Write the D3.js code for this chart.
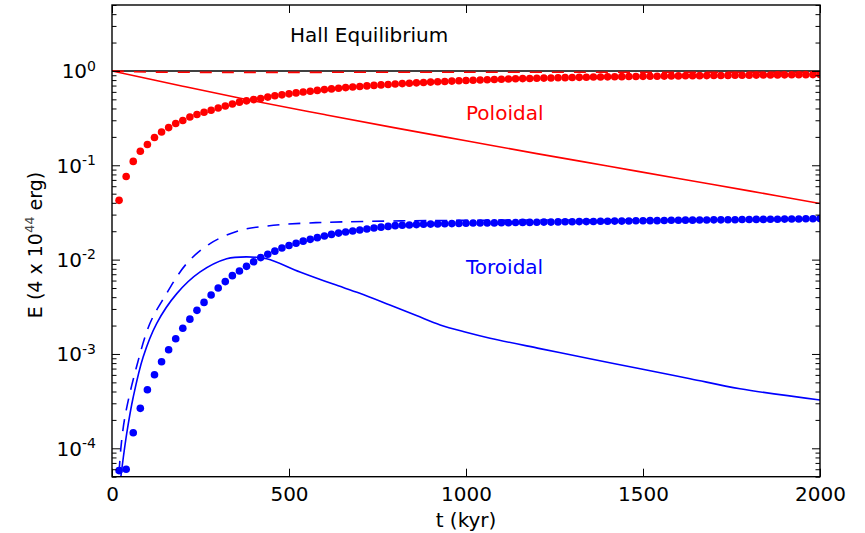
<!DOCTYPE html>
<html>
<head>
<meta charset="utf-8">
<script src="https://cdn.jsdelivr.net/npm/d3@7"></script>
<style>
  html, body { margin: 0; padding: 0; background: #fff; }
  svg { display: block; font-family: "DejaVu Sans", sans-serif; }
</style>
</head>
<body>
<svg id="chart" width="865" height="533"></svg>
<script>
// ---------------- data ----------------
const xTicks = [0, 500, 1000, 1500, 2000];
const yTicks = [1e-4, 1e-3, 1e-2, 1e-1, 1];
const yTickExp = ["-4", "-3", "-2", "-1", "0"];

// Hall equilibrium reference level
const hallLine = [[0, 1], [2000, 1]];

// Poloidal energy, dashed
const polDashed = [[0, 1.0], [100, 0.975], [1000, 0.97], [2000, 0.97]];

// Poloidal energy, solid
const polSolid = [[0, 1], [200, 0.689], [400, 0.481], [600, 0.345], [800, 0.249], [1000, 0.182],
  [1200, 0.133], [1400, 0.0982], [1600, 0.0724], [1800, 0.0535], [2000, 0.0394]];

// dot times (kyr)
const dotTimes = [20,40,60,80,100,120,140,160,180,200,220,240,260,280,300,320,340,360,380,400,
  420,440,460,480,500,520,540,560,580,600,620,640,660,680,700,720,740,760,780,800,
  820,840,860,880,900,920,940,960,980,1000,1020,1040,1060,1080,1100,1120,1140,1160,1180,1200,
  1220,1240,1260,1280,1300,1320,1340,1360,1380,1400,1420,1440,1460,1480,1500,1520,1540,1560,1580,1600,
  1620,1640,1660,1680,1700,1720,1740,1760,1780,1800,1820,1840,1860,1880,1900,1920,1940,1960,1980,2000];

// Poloidal energy, dots
const polDots = [0.0425,0.076,0.110,0.141,0.166,0.197,0.225,0.251,0.277,0.298,0.325,0.345,0.365,0.383,0.405,0.425,0.447,0.467,0.482,0.497,
  0.510,0.528,0.545,0.558,0.572,0.585,0.598,0.610,0.622,0.634,0.645,0.656,0.666,0.676,0.685,0.694,0.703,0.711,0.719,0.727,
  0.734,0.741,0.748,0.755,0.762,0.768,0.774,0.780,0.786,0.792,0.797,0.802,0.807,0.812,0.817,0.821,0.825,0.829,0.833,0.837,
  0.840,0.843,0.846,0.849,0.852,0.855,0.858,0.861,0.863,0.866,0.868,0.870,0.872,0.874,0.876,0.878,0.880,0.882,0.884,0.886,
  0.888,0.889,0.891,0.893,0.894,0.896,0.897,0.899,0.900,0.902,0.903,0.905,0.906,0.908,0.909,0.911,0.912,0.914,0.915,0.917];

// Toroidal energy, dashed
const torDashed = [[20, 5.5e-5], [25, 1.0e-4], [37, 2.2e-4], [68, 7.0e-4], [107, 2.1e-3], [148, 4.0e-3],
  [211, 9.1e-3], [277, 0.0148], [362, 0.0204], [456, 0.0231], [550, 0.0244], [650, 0.0251], [795, 0.0257],
  [1000, 0.0261], [1500, 0.0264], [2000, 0.0266]];

// Toroidal energy, solid
const torSolid = [[22, 4.0e-5], [25, 5.0e-5], [41.5, 1.43e-4], [60, 3.5e-4], [88, 9.3e-4], [126, 2.1e-3],
  [183, 4.36e-3], [249, 7.4e-3], [324, 0.0102], [380, 0.0107], [437, 0.0102], [531, 7.4e-3], [625, 5.5e-3],
  [700, 4.4e-3], [785, 3.3e-3], [860, 2.55e-3], [927, 2.03e-3], [1000, 1.7e-3], [1068, 1.47e-3],
  [1209, 1.14e-3], [1350, 8.9e-4], [1492, 6.98e-4], [1633, 5.47e-4], [1774, 4.28e-4], [2000, 3.25e-4]];

// Toroidal energy, dots
const torDots = [5.8e-5,6.0e-5,1.46e-4,2.65e-4,4.18e-4,6.03e-4,8.28e-4,1.11e-3,1.45e-3,1.87e-3,2.34e-3,2.9e-3,3.52e-3,4.22e-3,5.0e-3,5.85e-3,6.76e-3,7.57e-3,8.49e-3,9.5e-3,
  0.0105,0.0114,0.0123,0.0133,0.0141,0.0149,0.0157,0.0164,0.0171,0.0178,0.0185,0.0191,0.0196,0.0201,0.0206,0.0211,0.0216,0.0221,0.0225,0.0229,
  0.0231,0.0233,0.0235,0.0237,0.0238,0.0239,0.0240,0.0241,0.0242,0.0243,0.0244,0.0244,0.0245,0.0245,0.0246,0.0246,0.0247,0.0248,0.0248,0.0249,
  0.0250,0.0250,0.0251,0.0252,0.0252,0.0253,0.0253,0.0254,0.0255,0.0255,0.0256,0.0256,0.0257,0.0258,0.0258,0.0259,0.0259,0.0260,0.0261,0.0261,
  0.0262,0.0262,0.0263,0.0263,0.0264,0.0264,0.0265,0.0265,0.0266,0.0266,0.0267,0.0267,0.0268,0.0268,0.0269,0.0270,0.0270,0.0271,0.0271,0.0272];

const annotations = [
  {text: "Hall Equilibrium", t: 503, v: 2.02, color: "#000000"},
  {text: "Poloidal", t: 1000, v: 0.30, color: "#ff0000"},
  {text: "Toroidal", t: 1000, v: 0.0070, color: "#0000ff"}
];

// ---------------- layout ----------------
const L = 112, R = 820, T = 5, B = 476.7;
const svg = d3.select("#chart");
const x = d3.scaleLinear().domain([0, 2000]).range([L, R]);
const y = d3.scaleLog().domain([5e-5, 5]).range([B, T]);

svg.append("defs").append("clipPath").attr("id", "clip")
  .append("rect").attr("x", L).attr("y", T).attr("width", R - L).attr("height", B - T);

const plot = svg.append("g").attr("clip-path", "url(#clip)");
const line = d3.line().x(d => x(d[0])).y(d => y(d[1]));
const smooth = d3.line().x(d => x(d[0])).y(d => y(d[1])).curve(d3.curveCatmullRom.alpha(0.5));

plot.append("path").attr("d", line(hallLine)).attr("fill", "none").attr("stroke", "#000").attr("stroke-width", 1.6);
plot.append("path").attr("d", smooth(polDashed)).attr("fill", "none").attr("stroke", "#ff0000").attr("stroke-width", 1.6).attr("stroke-dasharray", "12,10");
plot.append("path").attr("d", smooth(polSolid)).attr("fill", "none").attr("stroke", "#ff0000").attr("stroke-width", 1.6);
plot.append("path").attr("d", smooth(torDashed)).attr("fill", "none").attr("stroke", "#0000ff").attr("stroke-width", 1.6).attr("stroke-dasharray", "12,9");
plot.append("path").attr("d", smooth(torSolid)).attr("fill", "none").attr("stroke", "#0000ff").attr("stroke-width", 1.6);

plot.selectAll("circle.pol").data(dotTimes).join("circle").attr("class", "pol")
  .attr("cx", d => x(d)).attr("cy", (d, i) => y(polDots[i])).attr("r", 3.8).attr("fill", "#ff0000");
plot.selectAll("circle.tor").data(dotTimes).join("circle").attr("class", "tor")
  .attr("cx", d => x(d)).attr("cy", (d, i) => y(torDots[i])).attr("r", 3.8).attr("fill", "#0000ff");

// ---------------- axes ----------------
const minorY = [];
for (let e = -5; e <= 0; e++) for (let m = 2; m <= 9; m++) {
  const v = m * Math.pow(10, e);
  if (v >= 5e-5 && v <= 5) minorY.push(v);
}

function styleAxis(g) {
  g.select(".domain").remove();
  g.selectAll("line").attr("stroke", "#000").attr("stroke-width", 1);
}

// left
const gl = svg.append("g").attr("transform", `translate(${L},0)`)
  .call(d3.axisLeft(y).tickValues(yTicks).tickSizeInner(-8).tickSizeOuter(0).tickPadding(14).tickFormat(() => ""));
styleAxis(gl);
gl.selectAll(".tick text").each(function(d, i) {
  const t = d3.select(this);
  t.attr("font-size", 20).attr("fill", "#000").attr("font-family", "DejaVu Sans").attr("dy", "0.35em")
    .attr("x", -16);
  t.append("tspan").text("10");
  t.append("tspan").text(yTickExp[i]).attr("font-size", 14).attr("dy", "-0.55em");
});
svg.append("g").attr("transform", `translate(${L},0)`)
  .call(d3.axisLeft(y).tickValues(minorY).tickSizeInner(-4.5).tickSizeOuter(0).tickFormat(() => ""))
  .call(styleAxis);
// right
svg.append("g").attr("transform", `translate(${R},0)`)
  .call(d3.axisRight(y).tickValues(yTicks).tickSizeInner(-8).tickSizeOuter(0).tickFormat(() => ""))
  .call(styleAxis);
svg.append("g").attr("transform", `translate(${R},0)`)
  .call(d3.axisRight(y).tickValues(minorY).tickSizeInner(-4.5).tickSizeOuter(0).tickFormat(() => ""))
  .call(styleAxis);
// bottom
const gb = svg.append("g").attr("transform", `translate(0,${B})`)
  .call(d3.axisBottom(x).tickValues(xTicks).tickSizeInner(-8).tickSizeOuter(0).tickPadding(10).tickFormat(d3.format("d")));
styleAxis(gb);
gb.selectAll(".tick text").attr("font-size", 20).attr("fill", "#000").attr("font-family", "DejaVu Sans");
// top
svg.append("g").attr("transform", `translate(0,${T})`)
  .call(d3.axisTop(x).tickValues(xTicks).tickSizeInner(-8).tickSizeOuter(0).tickFormat(() => ""))
  .call(styleAxis);

// frame
svg.append("rect").attr("x", L).attr("y", T).attr("width", R - L).attr("height", B - T)
  .attr("fill", "none").attr("stroke", "#000").attr("stroke-width", 1.4);

// axis labels
svg.append("text").attr("x", (L + R) / 2).attr("y", 527).attr("text-anchor", "middle")
  .attr("font-size", 20).attr("fill", "#000").text("t (kyr)");

const yl = svg.append("text").attr("transform", `translate(42,245) rotate(-90)`).attr("text-anchor", "middle")
  .attr("font-size", 19).attr("fill", "#000");
yl.append("tspan").text("E (4 x 10");
yl.append("tspan").text("44").attr("font-size", 13).attr("dy", "-0.6em").attr("fill", "#444");
yl.append("tspan").text(" erg)").attr("dy", "0.42em");

// annotations
svg.selectAll("text.ann").data(annotations).join("text").attr("class", "ann")
  .attr("x", d => x(d.t)).attr("y", d => y(d.v)).attr("text-anchor", "start")
  .attr("font-size", 20).attr("fill", d => d.color).text(d => d.text);
</script>
</body>
</html>
